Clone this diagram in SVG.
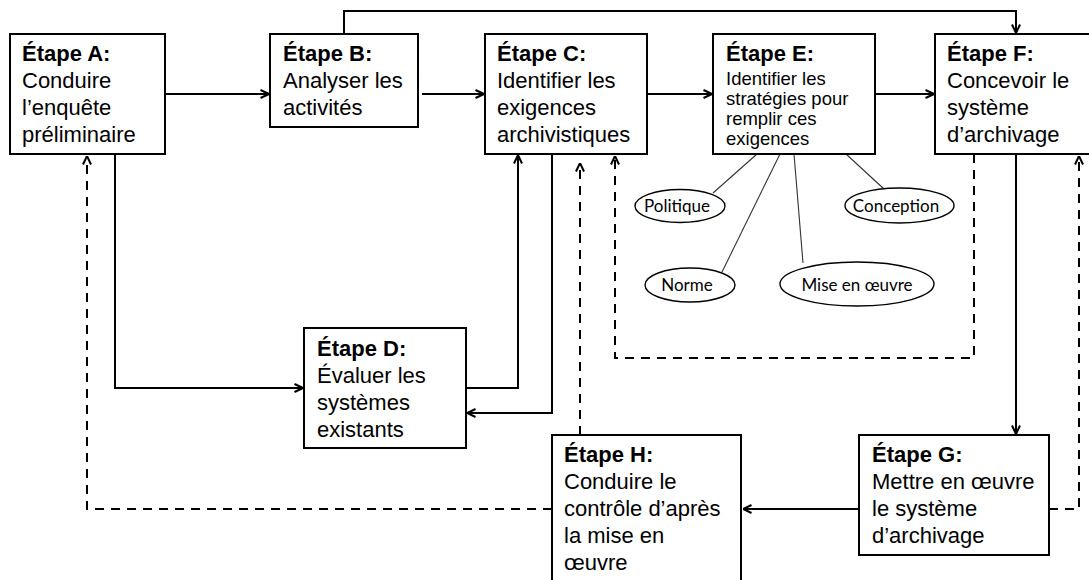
<svg xmlns="http://www.w3.org/2000/svg" width="1089" height="580" viewBox="0 0 1089 580">
  <style>
    .box { fill: #fff; stroke: #000; stroke-width: 2; }
    .t { font-family: "Liberation Sans", Arial, sans-serif; font-size: 22px; fill: #000; }
    .b { font-weight: bold; }
    .s { font-size: 18.5px; }
    .ov { fill: #fff; stroke: #000; stroke-width: 1.4; }
    .ot { font-family: Lato, "Open Sans", sans-serif; font-size: 17px; fill: #000; text-anchor: middle; }
    .solid { fill: none; stroke: #000; stroke-width: 2; marker-end: url(#arr); }
    .dashA { fill: none; stroke: #000; stroke-width: 2; stroke-dasharray: 9 7; marker-end: url(#arr); }
    .thin { stroke: #333; stroke-width: 1.1; }
  </style>
  <defs>
    <marker id="arr" viewBox="0 0 10 10" refX="9.5" refY="5" markerWidth="10" markerHeight="10" markerUnits="userSpaceOnUse" orient="auto">
      <path d="M1,1 L9.5,5 L1,9" fill="none" stroke="#000" stroke-width="2" stroke-dasharray="none"/>
    </marker>
  </defs>
  <rect width="1089" height="580" fill="#fff"/>

  <g id="connectors">
    <!-- main flow along the top row -->
    <line class="solid" x1="165" y1="94" x2="269" y2="94"/>
    <line class="solid" x1="422" y1="94" x2="484" y2="94"/>
    <line class="solid" x1="647" y1="94" x2="712" y2="94"/>
    <line class="solid" x1="875" y1="94" x2="934" y2="94"/>
    <!-- B over the top to F -->
    <polyline class="solid" points="344,34 344,11 1016,11 1016,33"/>
    <!-- A to D -->
    <polyline class="solid" points="115,154 115,388 303,388"/>
    <!-- D to C and C back to D -->
    <polyline class="solid" points="466,388 518,388 518,155"/>
    <polyline class="solid" points="552,154 552,413 467,413"/>
    <!-- F down to G, G to H -->
    <line class="solid" x1="1016" y1="154" x2="1016" y2="434"/>
    <line class="solid" x1="859" y1="509" x2="743" y2="509"/>
    <!-- feedback loops -->
    <polyline class="dashA" points="974,154 974,358 615,358 615,156"/>
    <polyline class="dashA" points="1049,509 1079,509 1079,156"/>
    <line class="dashA" x1="580" y1="435" x2="580" y2="163"/>
    <polyline class="dashA" points="552,509 87,509 87,156"/>
    <!-- strategy links from E -->
    <line class="thin" x1="757" y1="154" x2="713" y2="193"/>
    <line class="thin" x1="780" y1="154" x2="722" y2="272"/>
    <line class="thin" x1="794" y1="154" x2="803" y2="263"/>
    <line class="thin" x1="846" y1="154" x2="884" y2="189"/>
  </g>

  <g id="stepA">
    <rect class="box" x="10" y="34" width="155" height="120"/>
    <text class="t" x="22" y="61"><tspan class="b">Étape A:</tspan><tspan x="22" y="88">Conduire</tspan><tspan x="22" y="115">l’enquête</tspan><tspan x="22" y="142">préliminaire</tspan></text>
  </g>
  <g id="stepB">
    <rect class="box" x="270" y="34" width="148" height="93"/>
    <text class="t" x="283" y="61"><tspan class="b">Étape B:</tspan><tspan x="283" y="88">Analyser les</tspan><tspan x="283" y="115">activités</tspan></text>
  </g>
  <g id="stepC">
    <rect class="box" x="485" y="34" width="162" height="120"/>
    <text class="t" x="497" y="61"><tspan class="b">Étape C:</tspan><tspan x="497" y="88">Identifier les</tspan><tspan x="497" y="115">exigences</tspan><tspan x="497" y="142">archivistiques</tspan></text>
  </g>
  <g id="stepE">
    <rect class="box" x="713" y="34" width="162" height="120"/>
    <text class="t" x="726" y="61"><tspan class="b">Étape E:</tspan></text>
    <text class="t s" x="726" y="85"><tspan>Identifier les</tspan><tspan x="726" y="105">stratégies pour</tspan><tspan x="726" y="125">remplir ces</tspan><tspan x="726" y="145">exigences</tspan></text>
  </g>
  <g id="stepF">
    <rect class="box" x="935" y="34" width="165" height="120"/>
    <text class="t" x="947" y="61"><tspan class="b">Étape F:</tspan><tspan x="947" y="88">Concevoir le</tspan><tspan x="947" y="115">système</tspan><tspan x="947" y="142">d’archivage</tspan></text>
  </g>
  <g id="stepD">
    <rect class="box" x="304" y="328" width="162" height="120"/>
    <text class="t" x="317" y="356"><tspan class="b">Étape D:</tspan><tspan x="317" y="383">Évaluer les</tspan><tspan x="317" y="410">systèmes</tspan><tspan x="317" y="437">existants</tspan></text>
  </g>
  <g id="stepH">
    <rect class="box" x="552" y="435" width="189" height="160"/>
    <text class="t" x="564" y="462"><tspan class="b">Étape H:</tspan><tspan x="564" y="489">Conduire le</tspan><tspan x="564" y="516">contrôle d’après</tspan><tspan x="564" y="543">la mise en</tspan><tspan x="564" y="570">œuvre</tspan></text>
  </g>
  <g id="stepG">
    <rect class="box" x="859" y="435" width="190" height="120"/>
    <text class="t" x="872" y="462"><tspan class="b">Étape G:</tspan><tspan x="872" y="489">Mettre en œuvre</tspan><tspan x="872" y="516">le système</tspan><tspan x="872" y="543">d’archivage</tspan></text>
  </g>

  <g id="politique">
    <ellipse class="ov" cx="680" cy="206" rx="45" ry="16.5"/>
    <text class="ot" x="677" y="212">Politique</text>
  </g>
  <g id="conception">
    <ellipse class="ov" cx="899.5" cy="205.5" rx="54.5" ry="17.5"/>
    <text class="ot" x="896" y="212">Conception</text>
  </g>
  <g id="norme">
    <ellipse class="ov" cx="690" cy="285" rx="45" ry="17"/>
    <text class="ot" x="687" y="291">Norme</text>
  </g>
  <g id="mise-en-oeuvre">
    <ellipse class="ov" cx="857" cy="284" rx="77" ry="22"/>
    <text class="ot" x="857" y="291">Mise en œuvre</text>
  </g>
</svg>
